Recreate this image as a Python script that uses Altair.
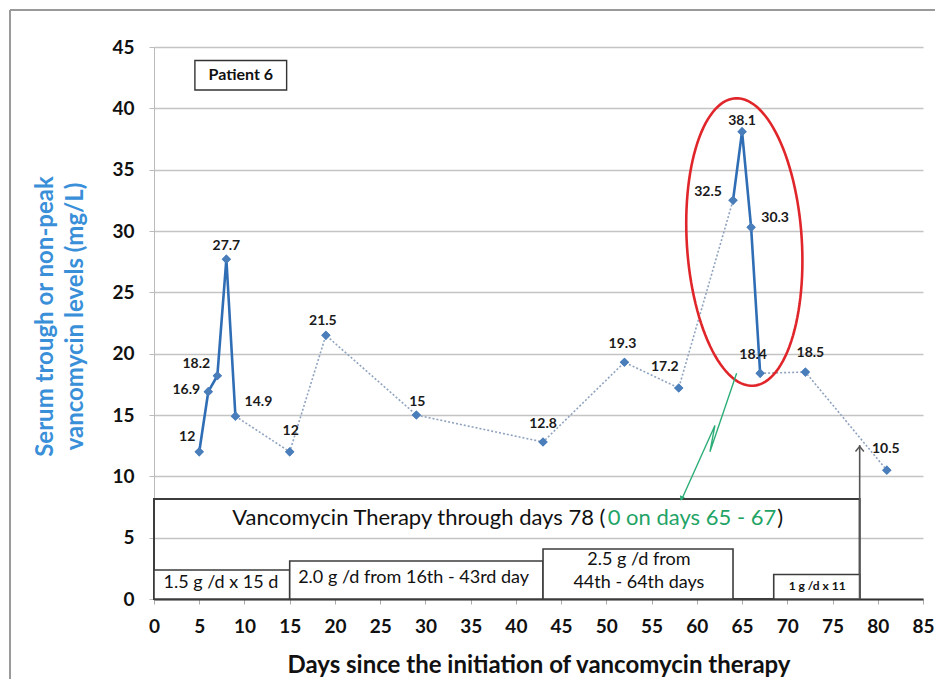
import math
import altair as alt
import pandas as pd

# ---------------- data ----------------
days = [5, 6, 7, 8, 9, 15, 19, 29, 43, 52, 58, 64, 65, 66, 67, 72, 81]
levels = [12, 16.9, 18.2, 27.7, 14.9, 12, 21.5, 15, 12.8, 19.3, 17.2, 32.5, 38.1, 30.3, 18.4, 18.5, 10.5]
level_labels = ["12", "16.9", "18.2", "27.7", "14.9", "12", "21.5", "15", "12.8",
                "19.3", "17.2", "32.5", "38.1", "30.3", "18.4", "18.5", "10.5"]

solid_runs = [[5, 6, 7, 8, 9], [64, 65, 66, 67]]
dotted_runs = [[9, 15, 19, 29, 43, 52, 58, 64], [67, 72, 81]]

x_ticks = list(range(0, 90, 5))
y_ticks = list(range(0, 50, 5))

dose_start = [0, 15, 43, 68.5]
dose_end = [15, 43, 64, 78]
dose_lines = [["1.5 g /d x 15 d"], ["2.0 g /d from 16th - 43rd day"],
              ["2.5 g /d from", "44th - 64th days"], ["1 g /d x 11"]]
therapy_end = 78
therapy_text = "Vancomycin Therapy through days 78 ("
hold_text = "0 on days 65 - 67"
patient_text = "Patient 6"

# ---------------- layout ----------------
W, H = 769, 552
PX_X = W / 85.0
PX_Y = H / 45.0
FONT = "Lato"

# label offsets in pixels (dx, dy) relative to each point
label_offsets = {5: (-12, -15), 6: (-22, -2), 7: (-21, -12), 8: (0, -13), 9: (23, -14),
                 15: (1, -21), 19: (-3, -14), 29: (1, -13), 43: (0, -18), 52: (-2, -18),
                 58: (-14, -21), 64: (-25, -8), 65: (0, -11), 66: (24, -9), 67: (-7, -18),
                 72: (5, -19), 81: (-1, -21)}
dose_box_top = [2.36, 3.1, 4.07, 2.0]
dose_text_pos = [[(7.4, 1.3)], [(28.7, 1.7)], [(53.6, 3.15), (53.6, 1.3)], [(73.3, 1.05)]]
therapy_box_top = 8.15
therapy_text_y = 6.6
arrow_top = 12.55

XS = alt.Scale(domain=[0, 85], nice=False, zero=False)
YS = alt.Scale(domain=[0, 45], nice=False, zero=False)


def X(field, axis=None):
    if axis is None:
        return alt.X(field, type="quantitative", scale=XS)
    return alt.X(field, type="quantitative", scale=XS, axis=axis)


def Y(field, axis=None):
    if axis is None:
        return alt.Y(field, type="quantitative", scale=YS)
    return alt.Y(field, type="quantitative", scale=YS, axis=axis)


x_axis = alt.Axis(values=x_ticks, title="Days since the initiation of vancomycin therapy",
                  grid=False, labelFont=FONT, labelFontSize=19, labelFontWeight="bold",
                  labelColor="#111111", labelPadding=13, labelFlush=False, labelOverlap=False,
                  tickSize=5, tickColor="#AAAAAA", domainColor="#333333", domainWidth=2,
                  titleFont=FONT, titleFontSize=24, titleFontWeight="bold", titleColor="#111111",
                  titleY=66, titleBaseline="middle")
y_axis = alt.Axis(values=y_ticks, title=["Serum trough or non-peak", "vancomycin levels (mg/L)"],
                  grid=True, gridColor="#C4C4C4", gridWidth=1.5,
                  labelFont=FONT, labelFontSize=19, labelFontWeight="bold", labelColor="#111111",
                  labelPadding=15, tickSize=5, tickColor="#BBBBBB", domainColor="#BBBBBB",
                  titleFont=FONT, titleColor="#3A8FD9", titleFontSize=24, titleFontWeight="bold",
                  titleX=-97, titleY=269, titleLineHeight=30)

# ---------------- tables ----------------
pts = pd.DataFrame({"day": days, "level": levels, "label": level_labels})
pts["lx"] = [d + label_offsets[d][0] / PX_X for d in days]
pts["ly"] = [v - label_offsets[d][1] / PX_Y for d, v in zip(days, levels)]


def runs_table(runs):
    rows = []
    for r, run in enumerate(runs):
        for i, d in enumerate(run):
            rows.append({"day": d, "level": levels[days.index(d)], "run": r, "ord": i})
    return pd.DataFrame(rows)


solid_df = runs_table(solid_runs)
dotted_df = runs_table(dotted_runs)

dose_df = pd.DataFrame({"day": dose_start, "x2": dose_end, "level": [0] * 4, "y2": dose_box_top})
dose_txt_rows = []
for lines, poss in zip(dose_lines, dose_text_pos):
    for t, (tx, ty) in zip(lines, poss):
        dose_txt_rows.append({"day": tx, "level": ty, "t": t})
dose_txt = pd.DataFrame(dose_txt_rows)
small_txt = dose_txt[dose_txt.t == "1 g /d x 11"]
norm_txt = dose_txt[dose_txt.t != "1 g /d x 11"]

# ---------------- layers ----------------
one = pd.DataFrame({"k": [0]})
frame_top = alt.Chart(one).mark_rule(color="#9A9A9A", strokeWidth=2).encode(
    x=alt.value(-144), x2=alt.value(790), y=alt.value(-37))
frame_left = alt.Chart(one).mark_rule(color="#9A9A9A", strokeWidth=2).encode(
    x=alt.value(-144), y=alt.value(-37), y2=alt.value(650))

points = alt.Chart(pts).mark_point(shape="diamond", filled=True, size=85, color="#4A7EBB", opacity=1).encode(
    x=X("day", x_axis), y=Y("level", y_axis))

therapy_box = alt.Chart(pd.DataFrame({"day": [0], "x2": [therapy_end], "level": [0], "y2": [therapy_box_top]})
                        ).mark_rect(fillOpacity=0, stroke="#3C3C3C", strokeWidth=2).encode(
    x=X("day"), x2="x2", y=Y("level"), y2="y2")
dose_boxes = alt.Chart(dose_df).mark_rect(fill="white", stroke="#3C3C3C", strokeWidth=1.6).encode(
    x=X("day"), x2="x2", y=Y("level"), y2="y2")
dose_text = alt.Chart(norm_txt).mark_text(font=FONT, fontSize=18, color="#111111",
                                          baseline="middle", align="center").encode(
    x=X("day"), y=Y("level"), text="t")
dose_small = alt.Chart(small_txt).mark_text(font=FONT, fontSize=12, fontWeight="bold", color="#111111",
                                            baseline="middle", align="center").encode(
    x=X("day"), y=Y("level"), text="t")

txt_black = alt.Chart(pd.DataFrame({"day": [49.9], "level": [therapy_text_y], "t": [therapy_text]})).mark_text(
    font=FONT, fontSize=22, color="#111111", baseline="middle", align="right").encode(
    x=X("day"), y=Y("level"), text="t")
txt_green = alt.Chart(pd.DataFrame({"day": [50.15], "level": [therapy_text_y], "t": [hold_text]})).mark_text(
    font=FONT, fontSize=22, color="#1FA466", baseline="middle", align="left").encode(
    x=X("day"), y=Y("level"), text="t")
txt_close = alt.Chart(pd.DataFrame({"day": [68.9], "level": [therapy_text_y], "t": [")"]})).mark_text(
    font=FONT, fontSize=22, color="#111111", baseline="middle", align="left").encode(
    x=X("day"), y=Y("level"), text="t")

dotted = alt.Chart(dotted_df).mark_line(color="#8FA3BF", strokeWidth=1.6, strokeDash=[2, 2]).encode(
    x=X("day"), y=Y("level"), detail="run:N", order="ord:Q")
solid = alt.Chart(solid_df).mark_line(color="#2F6DB5", strokeWidth=2.6).encode(
    x=X("day"), y=Y("level"), detail="run:N", order="ord:Q")
points2 = alt.Chart(pts).mark_point(shape="diamond", filled=True, size=85, color="#4A7EBB", opacity=1).encode(
    x=X("day"), y=Y("level"))
labels = alt.Chart(pts).mark_text(font=FONT, fontSize=14, fontWeight="bold", color="#1A1A1A",
                                  baseline="middle", align="center").encode(
    x=X("lx"), y=Y("ly"), text="label")

# red ellipse around the 64-67 day excursion
cx, cy, a, b, phi = 65.25, 29.1, 57.5, 144.0, math.radians(3.6)
ell = []
for i in range(121):
    t = 2 * math.pi * i / 120
    px = a * math.cos(t) * math.cos(phi) - b * math.sin(t) * math.sin(phi)
    py = a * math.cos(t) * math.sin(phi) + b * math.sin(t) * math.cos(phi)
    ell.append({"day": cx + px / PX_X, "level": cy + py / PX_Y, "o": i})
ellipse = alt.Chart(pd.DataFrame(ell)).mark_line(color="#E0262B", strokeWidth=2.6).encode(
    x=X("day"), y=Y("level"), order="o:Q")

# green lightning arrow
g_df = pd.DataFrame({"day": [64.4, 61.45, 62.0, 58.3], "level": [18.4, 12.0, 14.15, 8.07], "o": [0, 1, 2, 3]})
green = alt.Chart(g_df).mark_line(color="#2DAE78", strokeWidth=1.4).encode(
    x=X("day"), y=Y("level"), order="o:Q")
green_head = alt.Chart(pd.DataFrame({"day": [58.3], "level": [8.2]})).mark_point(
    shape="triangle-down", filled=True, size=30, color="#2DAE78", angle=24, opacity=1).encode(
    x=X("day"), y=Y("level"))

# dark arrow at end of therapy
d_arrow = alt.Chart(pd.DataFrame({"day": [therapy_end], "level": [0], "y2": [arrow_top]})).mark_rule(
    color="#555555", strokeWidth=1.6).encode(x=X("day"), y=Y("level"), y2="y2")
d_head = alt.Chart(pd.DataFrame({"day": [therapy_end], "level": [arrow_top - 0.25]})).mark_point(
    shape="M-1,0.8L0,-0.4L1,0.8", filled=False, size=70, color="#555555", strokeWidth=1.4, opacity=1).encode(
    x=X("day"), y=Y("level"))

# Patient box
p_box = alt.Chart(pd.DataFrame({"day": [4.52], "x2": [14.66], "level": [41.5], "y2": [43.9]})).mark_rect(
    fill="white", stroke="#333333", strokeWidth=1.4).encode(x=X("day"), x2="x2", y=Y("level"), y2="y2")
p_txt = alt.Chart(pd.DataFrame({"day": [9.6], "level": [42.7], "t": [patient_text]})).mark_text(
    font=FONT, fontSize=16, fontWeight="bold", color="#111111", baseline="middle", align="center").encode(
    x=X("day"), y=Y("level"), text="t")

chart = alt.layer(
    points, frame_top, frame_left, therapy_box, dose_boxes, dose_text, dose_small,
    txt_black, txt_green, txt_close, dotted, solid, points2, labels, ellipse,
    green, green_head, d_arrow, d_head, p_box, p_txt
).properties(
    width=W, height=H,
    padding={"left": 146, "top": 39, "right": 12, "bottom": 80},
    autosize=alt.AutoSizeParams(type="none"),
    background="white",
).configure(font=FONT).configure_view(stroke=None)

chart.save("out.html", embed_options={"renderer": "svg", "actions": False})
